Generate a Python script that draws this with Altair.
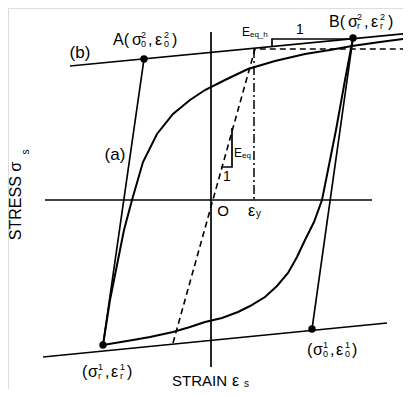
import altair as alt
import pandas as pd

# ---- schematic data (strain, stress) in arbitrary units ----
axis_h_e = [-166, 161]
axis_h_s = [0, 0]
axis_v_e = [0, 0]
axis_v_s = [168, -167]
upper_asym_e = [-141, 200]
upper_asym_s = [134, 167]
lower_asym_e = [-168, 176]
lower_asym_s = [-157, -123]
line_a_e = [-108, -67]
line_a_s = [-145, 141]
unload_b_e = [142, 101]
unload_b_s = [162, -129]
loading_e = [-108, -101, -93, -87, -79, -68, -54, -38, -21, -6, 14, 37, 64, 94, 119, 141, 169, 200]
loading_s = [-145, -100, -60, -30, 0, 38, 66, 86, 100, 110, 120, 131, 139, 146, 150, 154, 158, 162]
reversal_e = [142, 134, 125, 117, 111, 103, 94, 86, 77, 66, 54, 39, 27, 11, -6, -21, -38, -61, -78, -96, -108]
reversal_s = [162, 120, 70, 30, 0, -22, -40, -57, -73, -86, -97, -106, -112, -118, -122, -127, -132, -137, -140, -143, -145]
slope_eeq_e = [10, 21, 21]
slope_eeq_s = [33, 33, 72]
slope_eeqh_e = [61, 61, 139]
slope_eeqh_s = [154, 161, 161]
bilinear_e = [-38, 44, 200]
bilinear_s = [-143, 151, 151]
yield_e = [43, 43]
yield_s = [151, 0]
points_e = [-67, 142, -108, 101]
points_s = [141, 162, -145, -129]

FONT = "Liberation Sans"


def seg(name, es, ss):
    return pd.DataFrame({"id": name, "k": range(len(es)), "e": es, "s": ss})


solid = pd.concat([
    seg("axh", axis_h_e, axis_h_s),
    seg("axv", axis_v_e, axis_v_s),
    seg("up", upper_asym_e, upper_asym_s),
    seg("lo", lower_asym_e, lower_asym_s),
    seg("a", line_a_e, line_a_s),
    seg("ub", unload_b_e, unload_b_s),
    seg("t1", slope_eeq_e, slope_eeq_s),
    seg("t2", slope_eeqh_e, slope_eeqh_s),
])
curves = pd.concat([
    seg("load", loading_e, loading_s),
    seg("rev", reversal_e, reversal_s),
])
dashed = seg("bil", bilinear_e, bilinear_s)
dashdot = seg("yl", yield_e, yield_s)
pts = pd.DataFrame({"e": points_e, "s": points_s})

# ---- text pieces ----
rows = []


def t(txt, e, s, size=16, align="left"):
    rows.append({"text": txt, "e": e, "s": s, "size": size, "align": align})


def pair_label(prefix, e0, s0, sup, sub, off):
    # off: positions of (prefix, sigma, scripts, comma, eps, scripts, close)
    if prefix:
        t(prefix, e0 + off[0], s0)
    t("σ", e0 + off[1], s0)
    t(sup, e0 + off[2], s0 + 5, 9)
    t(sub, e0 + off[2], s0 - 4, 9)
    t(",", e0 + off[3], s0)
    t("ε", e0 + off[4], s0)
    t(sup, e0 + off[5], s0 + 5, 9)
    t(sub, e0 + off[5], s0 - 4, 9)
    t(")", e0 + off[6], s0)


big = [0, 19, 28, 35, 42, 51, 59]
small = [0, 6, 16, 23, 29, 38, 45]
pair_label("A(", -98, 160, "2", "0", big)
pair_label("B(", 118, 178, "2", "r", big)
pair_label("(", -129, -172, "1", "r", small)
pair_label("(", 96, -150, "1", "0", small)
t("(b)", -131, 147, 17, "center")
t("(a)", -96, 45, 17, "center")
t("E", 31, 168, 12)
t("eq_h", 39, 165, 8)
t("1", 89, 170, 14, "center")
t("E", 23, 47, 12)
t("eq", 31, 44, 8)
t("1", 16, 23, 14, "center")
t("O", 12, -11, 15, "center")
t("ε", 37, -11, 16)
t("y", 45, -14, 10)
t("STRAIN", -39, -181, 15)
t("ε", 21, -181, 16)
t("s", 33, -184, 10)
texts = pd.DataFrame(rows)

rot = pd.DataFrame({"text": ["STRESS σ", "s"], "e": [-195, -185], "s": [-1, 48], "size": [16, 10]})

X = alt.X("e:Q", scale=alt.Scale(domain=[-203, 192], nice=False, zero=False), axis=None)
Y = alt.Y("s:Q", scale=alt.Scale(domain=[-189, 192], nice=False, zero=False), axis=None)

base_line = dict(x=X, y=Y, detail="id:N", order="k:Q")

l_solid = alt.Chart(solid).mark_line(color="black", strokeWidth=1.7).encode(**base_line)
l_curve = alt.Chart(curves).mark_line(color="black", strokeWidth=2).encode(**base_line)
l_dash = alt.Chart(dashed).mark_line(color="black", strokeWidth=1.6, strokeDash=[6, 4]).encode(**base_line)
l_dd = alt.Chart(dashdot).mark_line(color="black", strokeWidth=1.5, strokeDash=[9, 3, 2, 3]).encode(**base_line)
l_pts = alt.Chart(pts).mark_circle(color="black", size=55, opacity=1).encode(x=X, y=Y)

txt_left = alt.Chart(texts).transform_filter("datum.align == 'left'").mark_text(
    align="left", baseline="middle", font=FONT, color="black").encode(
    x=X, y=Y, text="text:N", size=alt.Size("size:Q", scale=None))
txt_center = alt.Chart(texts).transform_filter("datum.align == 'center'").mark_text(
    align="center", baseline="middle", font=FONT, color="black").encode(
    x=X, y=Y, text="text:N", size=alt.Size("size:Q", scale=None))
txt_rot = alt.Chart(rot).mark_text(
    align="center", baseline="middle", font=FONT, color="black", angle=270).encode(
    x=X, y=Y, text="text:N", size=alt.Size("size:Q", scale=None))

chart = alt.layer(l_solid, l_curve, l_dash, l_dd, l_pts, txt_left, txt_center, txt_rot).properties(
    width=395, height=381,
    autosize=alt.AutoSizeParams(type="none"),
    padding=0,
).configure_view(stroke=None).configure(background="white")

chart.save("out.html", embed_options={"renderer": "svg", "actions": False})
